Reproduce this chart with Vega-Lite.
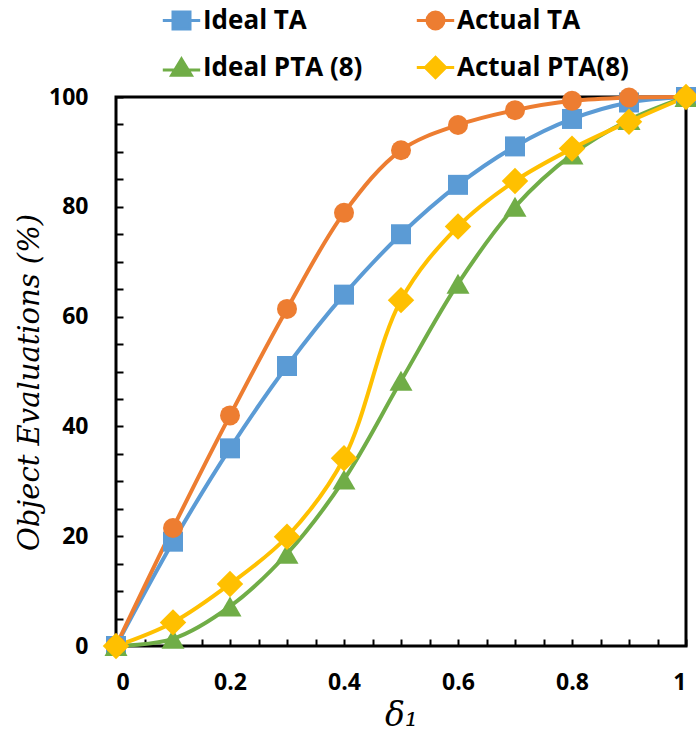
{
  "$schema": "https://vega.github.io/schema/vega-lite/v6.json",
  "width": 570,
  "height": 549,
  "autosize": "none",
  "padding": {"left": 116, "top": 97, "right": 10, "bottom": 86},
  "background": "white",
  "config": {
    "view": {"stroke": "black", "strokeWidth": 3},
    "axis": {"grid": false, "domain": false, "ticks": true, "zindex": 1, "tickColor": "black", "tickWidth": 2, "tickSize": -7, "labelColor": "black", "labelFont": "Open Sans", "labelFontWeight": "bold", "labelFontSize": 23, "titleColor": "black", "labelOverlap": false}
  },
  "data": {
    "values": [
      {"s": "Ideal TA", "x": 0, "y": 0}, {"s": "Ideal TA", "x": 0.1, "y": 19}, {"s": "Ideal TA", "x": 0.2, "y": 36}, {"s": "Ideal TA", "x": 0.3, "y": 51}, {"s": "Ideal TA", "x": 0.4, "y": 64}, {"s": "Ideal TA", "x": 0.5, "y": 75}, {"s": "Ideal TA", "x": 0.6, "y": 84}, {"s": "Ideal TA", "x": 0.7, "y": 91}, {"s": "Ideal TA", "x": 0.8, "y": 96}, {"s": "Ideal TA", "x": 0.9, "y": 99}, {"s": "Ideal TA", "x": 1, "y": 100},
      {"s": "Actual TA", "x": 0, "y": 0}, {"s": "Actual TA", "x": 0.1, "y": 21.5}, {"s": "Actual TA", "x": 0.2, "y": 42}, {"s": "Actual TA", "x": 0.3, "y": 61.4}, {"s": "Actual TA", "x": 0.4, "y": 78.9}, {"s": "Actual TA", "x": 0.5, "y": 90.3}, {"s": "Actual TA", "x": 0.6, "y": 94.9}, {"s": "Actual TA", "x": 0.7, "y": 97.6}, {"s": "Actual TA", "x": 0.8, "y": 99.3}, {"s": "Actual TA", "x": 0.9, "y": 99.9}, {"s": "Actual TA", "x": 1, "y": 100},
      {"s": "Ideal PTA (8)", "x": 0, "y": 0}, {"s": "Ideal PTA (8)", "x": 0.1, "y": 1.3}, {"s": "Ideal PTA (8)", "x": 0.2, "y": 7.2}, {"s": "Ideal PTA (8)", "x": 0.3, "y": 16.8}, {"s": "Ideal PTA (8)", "x": 0.4, "y": 30.3}, {"s": "Ideal PTA (8)", "x": 0.5, "y": 48.3}, {"s": "Ideal PTA (8)", "x": 0.6, "y": 66}, {"s": "Ideal PTA (8)", "x": 0.7, "y": 80}, {"s": "Ideal PTA (8)", "x": 0.8, "y": 89.5}, {"s": "Ideal PTA (8)", "x": 0.9, "y": 95.8}, {"s": "Ideal PTA (8)", "x": 1, "y": 100},
      {"s": "Actual PTA(8)", "x": 0, "y": 0}, {"s": "Actual PTA(8)", "x": 0.1, "y": 4.3}, {"s": "Actual PTA(8)", "x": 0.2, "y": 11.3}, {"s": "Actual PTA(8)", "x": 0.3, "y": 19.9}, {"s": "Actual PTA(8)", "x": 0.4, "y": 34.2}, {"s": "Actual PTA(8)", "x": 0.5, "y": 63}, {"s": "Actual PTA(8)", "x": 0.6, "y": 76.4}, {"s": "Actual PTA(8)", "x": 0.7, "y": 84.7}, {"s": "Actual PTA(8)", "x": 0.8, "y": 90.6}, {"s": "Actual PTA(8)", "x": 0.9, "y": 95.5}, {"s": "Actual PTA(8)", "x": 1, "y": 100}
    ]
  },
  "encoding": {
    "x": {
      "field": "x", "type": "quantitative",
      "scale": {"domain": [0, 1], "nice": false},
      "axis": {
        "values": [0, 0.05, 0.1, 0.15, 0.2, 0.25, 0.3, 0.35, 0.4, 0.45, 0.5, 0.55, 0.6, 0.65, 0.7, 0.75, 0.8, 0.85, 0.9, 0.95, 1],
        "labelExpr": "round(datum.value*100) % 20 == 0 ? format(datum.value, '~g') : ''",
        "labelPadding": 32, "tickSize": -7,
        "title": "δ₁", "titleFont": "DejaVu Serif", "titleFontStyle": "italic", "titleFontWeight": "normal", "titleFontSize": 33,
        "titleY": 69, "titleBaseline": "middle"
      }
    },
    "y": {
      "field": "y", "type": "quantitative",
      "scale": {"domain": [0, 100], "nice": false},
      "axis": {
        "values": [0, 5, 10, 15, 20, 25, 30, 35, 40, 45, 50, 55, 60, 65, 70, 75, 80, 85, 90, 95, 100],
        "labelExpr": "datum.value % 20 == 0 ? datum.label : ''",
        "labelPadding": 35, "tickSize": -7,
        "title": "Object Evaluations (%)", "titleFont": "DejaVu Serif", "titleFontStyle": "italic", "titleFontWeight": "normal", "titleFontSize": 29,
        "titleX": -87, "titleY": 285, "titleAngle": -90, "titleAlign": "center", "titleBaseline": "middle"
      }
    },
    "color": {
      "field": "s", "type": "nominal",
      "scale": {"domain": ["Ideal TA", "Actual TA", "Ideal PTA (8)", "Actual PTA(8)"], "range": ["#5B9BD5", "#ED7D31", "#70AD47", "#FFC000"]},
      "legend": {
        "orient": "none", "direction": "horizontal", "legendX": 47, "legendY": -95, "columns": 2, "title": null, "padding": 0,
        "labelFont": "Open Sans", "labelFontWeight": "bold", "labelFontSize": 26, "labelColor": "black", "labelOffset": 3, "labelLimit": 400,
        "symbolSize": 1156, "symbolStrokeWidth": 3, "columnPadding": 47, "rowPadding": 14,
        "encoding": {"symbols": {
          "shape": {"value": {"expr": "datum.value === 'Ideal TA' ? 'M-1.1,0H1.1M-0.5,-0.5H0.5V0.5H-0.5Z' : datum.value === 'Actual TA' ? 'M-1.1,0H1.1M0.5,0A0.5,0.5,0,1,1,-0.5,0A0.5,0.5,0,1,1,0.5,0Z' : datum.value === 'Ideal PTA (8)' ? 'M-1.1,0.15H1.1M0,-0.5L0.58,0.45H-0.58Z' : 'M-1.1,0H1.1M0,-0.6L0.6,0L0,0.6L-0.6,0Z'"}},
          "size": {"value": 1156},
          "strokeWidth": {"value": 3},
          "opacity": {"value": 1}
        }}
      }
    }
  },
  "layer": [
    {"mark": {"type": "line", "interpolate": "catmull-rom", "strokeWidth": 4}},
    {"transform": [{"filter": "datum.s === 'Ideal TA'"}], "mark": {"type": "point", "shape": "square", "size": 400, "filled": true, "opacity": 1}},
    {"transform": [{"filter": "datum.s === 'Actual TA'"}], "mark": {"type": "point", "shape": "circle", "size": 400, "filled": true, "opacity": 1}},
    {"transform": [{"filter": "datum.s === 'Ideal PTA (8)'"}], "mark": {"type": "point", "shape": "triangle-up", "size": 530, "filled": true, "opacity": 1}},
    {"transform": [{"filter": "datum.s === 'Actual PTA(8)'"}], "mark": {"type": "point", "shape": "diamond", "size": 700, "filled": true, "opacity": 1}}
  ]
}
